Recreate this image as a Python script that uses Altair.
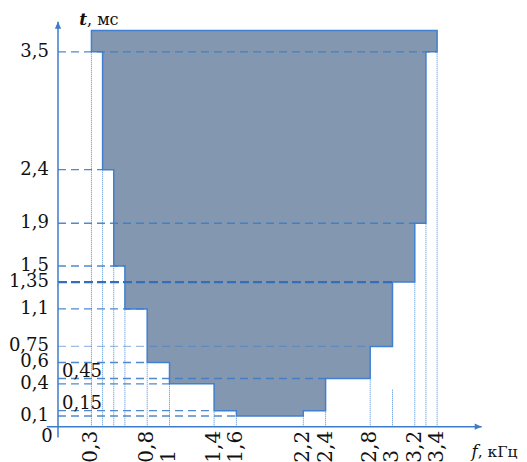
import altair as alt
import pandas as pd

# ---- data ----
# lower boundary of the filled region (step after each f), top of the region
shape_f = [0.3, 0.4, 0.5, 0.6, 0.8, 1.0, 1.4, 1.6, 2.2, 2.4, 2.8, 3.0, 3.2, 3.3, 3.4]
shape_t_low = [3.5, 2.4, 1.5, 1.1, 0.6, 0.4, 0.15, 0.1, 0.15, 0.45, 0.75, 1.35, 1.9, 3.5, 3.5]
shape_t_top = 3.7

# horizontal dashed guides (level, f where the guide stops)
h_levels = [3.5, 2.4, 1.9, 1.5, 1.35, 1.1, 0.75, 0.6, 0.45, 0.4, 0.15, 0.1]
h_ends = [3.4, 0.4, 3.2, 0.6, 3.0, 0.8, 2.8, 0.8, 2.4, 1.0, 1.4, 1.6]

# vertical dotted guides (f, t where the guide stops)
v_pos = [0.3, 0.4, 0.5, 0.6, 0.8, 1.0, 1.4, 1.6, 2.2, 2.4, 2.8, 3.0, 3.2, 3.3, 3.4]
v_ends = [3.5, 2.4, 1.5, 1.1, 0.6, 0.4, 0.15, 0.1, 0.1, 0.15, 0.45, 0.35, 1.35, 1.9, 3.5]

# tick labels
y_tick_values = [3.5, 2.4, 1.9, 1.5, 1.35, 1.1, 0.75, 0.6, 0.4, 0.1]
y_tick_labels = ["3,5", "2,4", "1,9", "1,5", "1,35", "1,1", "0,75", "0,6", "0,4", "0,1"]
inner_values = [0.45, 0.15]
inner_labels = ["0,45", "0,15"]
x_tick_values = [0.3, 0.8, 1.0, 1.4, 1.6, 2.2, 2.4, 2.8, 3.0, 3.2, 3.4]
x_tick_labels = ["0,3", "0,8", "1", "1,4", "1,6", "2,2", "2,4", "2,8", "3", "3,2", "3,4"]

# axis extents
axis_min = -0.1
axis_f_max = 3.8
axis_t_max = 3.78

# ---- scales ----
xs = alt.Scale(domain=[-0.3587, 4.1256], nice=False, zero=False)
ys = alt.Scale(domain=[-0.2175, 3.8908], nice=False, zero=False)

BLUE = "#3d7cc9"
FONT = "DejaVu Serif"


def X(field):
    return alt.X(field, type="quantitative", scale=xs, axis=None)


def Y(field):
    return alt.Y(field, type="quantitative", scale=ys, axis=None)


shape_df = pd.DataFrame({"f": shape_f, "low": shape_t_low,
                         "top": [shape_t_top] * len(shape_f)})
h_df = pd.DataFrame({"t": h_levels, "end": h_ends, "start": [0.0] * len(h_levels)})
v_df = pd.DataFrame({"f": v_pos, "end": v_ends, "start": [0.0] * len(v_pos)})
yl_df = pd.DataFrame({"t": y_tick_values, "label": y_tick_labels,
                      "f": [0.0] * len(y_tick_values)})
il_df = pd.DataFrame({"t": inner_values, "label": inner_labels,
                      "f": [0.0] * len(inner_values)})
xl_df = pd.DataFrame({"f": x_tick_values, "label": x_tick_labels,
                      "t": [0.0] * len(x_tick_values)})
xaxis_df = pd.DataFrame({"f0": [axis_min], "f1": [axis_f_max], "t": [0.0]})
yaxis_df = pd.DataFrame({"t0": [axis_min], "t1": [axis_t_max], "f": [0.0]})
up_df = pd.DataFrame({"f": [0.0], "t": [axis_t_max]})
right_df = pd.DataFrame({"f": [axis_f_max], "t": [0.0]})
zero_df = pd.DataFrame({"f": [0.0], "t": [0.0], "label": ["0"]})
ttl_t_df = pd.DataFrame({"f": [0.0], "t": [axis_t_max], "a": ["t"], "b": [", мс"]})
ttl_f_df = pd.DataFrame({"f": [axis_f_max], "t": [0.0], "a": ["f"], "b": [", кГц"]})

area = alt.Chart(shape_df).mark_area(
    interpolate="step-after", fill="#8497B0", stroke="#3f80d0", strokeWidth=1.5
).encode(x=X("f"), y=Y("low"), y2="top")

vlines = alt.Chart(v_df).mark_rule(
    color="#4a8ad0", strokeWidth=1, strokeDash=[1, 1]
).encode(x=X("f"), y=Y("start"), y2="end")

hlines = alt.Chart(h_df).transform_filter(
    "datum.t != 1.35 && datum.t != 0.75"
).mark_rule(strokeDash=[8, 5], color=BLUE, strokeWidth=1.4, opacity=0.9).encode(
    x=X("start"), x2="end", y=Y("t"))
hline_strong = alt.Chart(h_df).transform_filter("datum.t == 1.35").mark_rule(
    strokeDash=[9, 4], color="#336fb8", strokeWidth=2.4
).encode(x=X("start"), x2="end", y=Y("t"))
hline_light = alt.Chart(h_df).transform_filter("datum.t == 0.75").mark_rule(
    strokeDash=[8, 5], color=BLUE, strokeWidth=1.4, opacity=0.5
).encode(x=X("start"), x2="end", y=Y("t"))

xaxis = alt.Chart(xaxis_df).mark_rule(color=BLUE, strokeWidth=1.5).encode(
    x=X("f0"), x2="f1", y=Y("t"))
yaxis = alt.Chart(yaxis_df).mark_rule(color=BLUE, strokeWidth=1.5).encode(
    y=Y("t0"), y2="t1", x=X("f"))

arrow_up = alt.Chart(up_df).mark_point(
    shape="M0,0 L0.45,1 L-0.45,1 Z", size=196, filled=True, color=BLUE, opacity=1
).encode(x=X("f"), y=Y("t"))
arrow_right = alt.Chart(right_df).mark_point(
    shape="M0,0 L-1,-0.45 L-1,0.45 Z", size=196, filled=True, color=BLUE, opacity=1
).encode(x=X("f"), y=Y("t"))

ylabels = alt.Chart(yl_df).mark_text(
    align="right", baseline="middle", dx=-9, font=FONT, fontSize=18, color="#111"
).encode(x=X("f"), y=Y("t"), text="label:N")

ilabels = alt.Chart(il_df).mark_text(
    align="left", baseline="alphabetic", dx=4, dy=-2, font=FONT, fontSize=18, color="#111"
).encode(x=X("f"), y=Y("t"), text="label:N")

xlabels = alt.Chart(xl_df).mark_text(
    angle=270, align="left", baseline="middle", dx=-36, font=FONT, fontSize=20, color="#111"
).encode(x=X("f"), y=Y("t"), text="label:N")

zero_label = alt.Chart(zero_df).mark_text(
    align="center", baseline="middle", dx=-11, dy=10, font=FONT, fontSize=18, color="#111"
).encode(x=X("f"), y=Y("t"), text="label:N")

t_title = alt.Chart(ttl_t_df).mark_text(
    align="right", baseline="alphabetic", dx=29, dy=3, font=FONT, fontSize=17,
    fontStyle="italic", fontWeight="bold", color="#111"
).encode(x=X("f"), y=Y("t"), text="a:N")
t_unit = alt.Chart(ttl_t_df).mark_text(
    align="left", baseline="alphabetic", dx=29, dy=3, font=FONT, fontSize=16, color="#111"
).encode(x=X("f"), y=Y("t"), text="b:N")

f_title = alt.Chart(ttl_f_df).mark_text(
    align="right", baseline="alphabetic", dx=-4, dy=30, font=FONT, fontSize=17,
    fontStyle="italic", color="#111"
).encode(x=X("f"), y=Y("t"), text="a:N")
f_unit = alt.Chart(ttl_f_df).mark_text(
    align="left", baseline="alphabetic", dx=-4, dy=30, font=FONT, fontSize=15.5, color="#111"
).encode(x=X("f"), y=Y("t"), text="b:N")

chart = alt.layer(
    vlines, area, hlines, hline_strong, hline_light, xaxis, yaxis, arrow_up, arrow_right,
    ylabels, ilabels, xlabels, zero_label, t_title, t_unit, f_title, f_unit
).properties(
    width=500, height=440,
    autosize=alt.AutoSizeParams(type="none"),
    padding={"left": 10, "top": 2, "right": 1, "bottom": 12},
    background="white",
).configure_view(stroke=None)

chart.save("out.html", embed_options={"renderer": "svg", "actions": False})
